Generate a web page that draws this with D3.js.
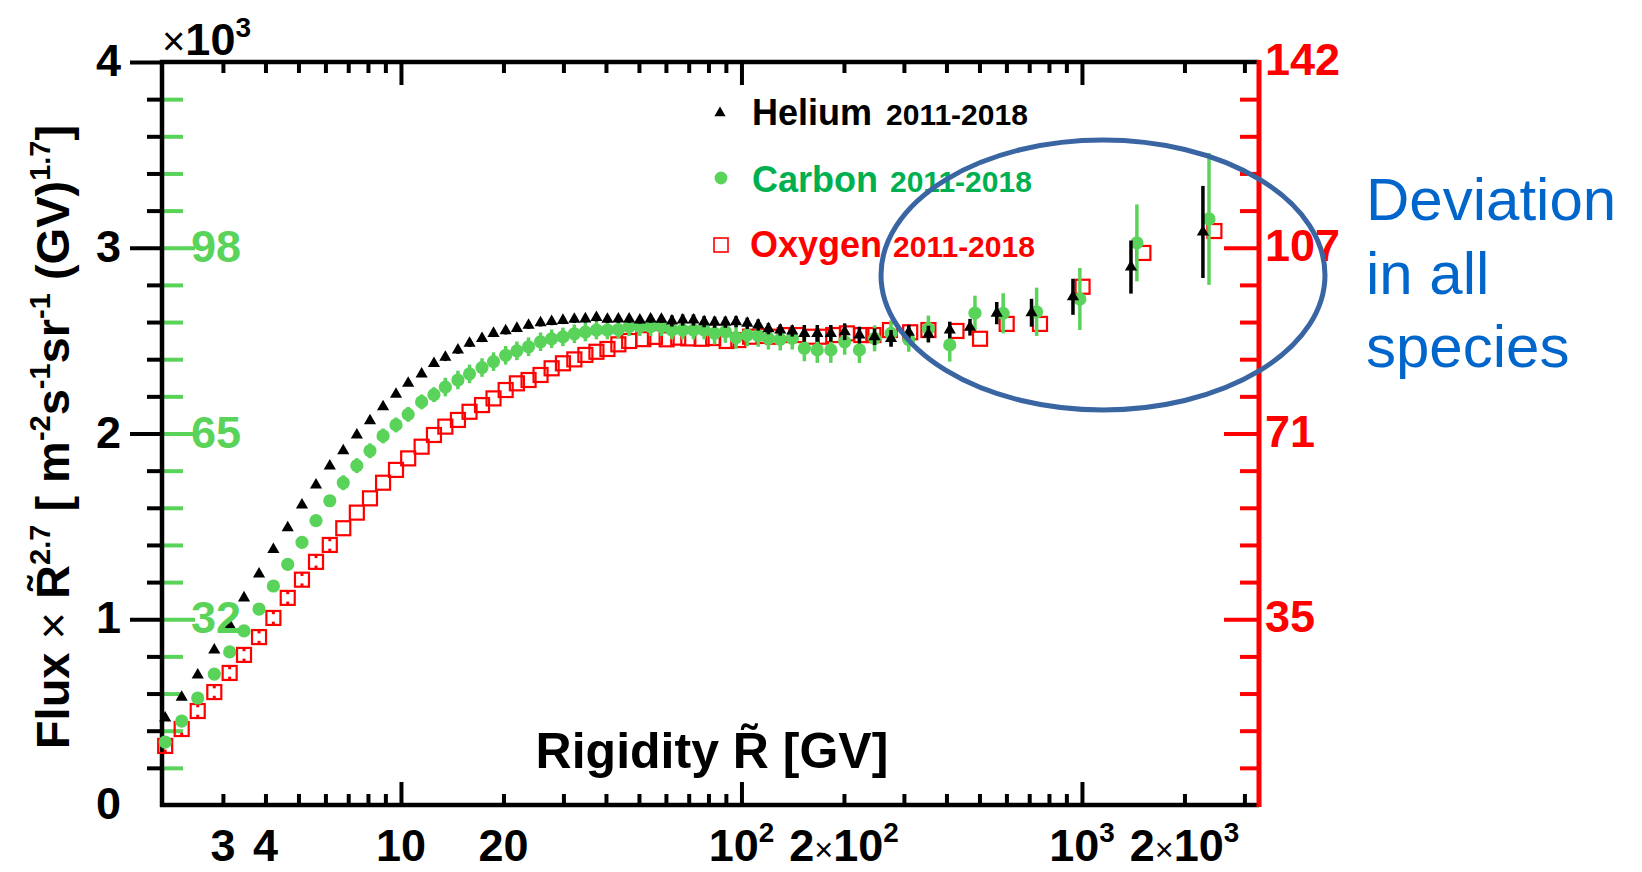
<!DOCTYPE html>
<html>
<head>
<meta charset="utf-8">
<script src="https://cdn.jsdelivr.net/npm/d3@7"></script>
<style>
  html, body { margin: 0; padding: 0; background: #fff; }
  svg { display: block; }
  text { font-family: "Liberation Sans", Arial, Helvetica, sans-serif; }
</style>
</head>
<body>
<svg id="chart" width="1642" height="872"></svg>
<script>
// ---- Data: flux x R^2.7 in units of 10^3 (left scale), per species ----
const heRigidity = [2.03, 2.27, 2.53, 2.83, 3.14, 3.46, 3.83, 4.22, 4.65, 5.12,
  5.63, 6.18, 6.77, 7.42, 8.11, 8.86, 9.67, 10.5, 11.5, 12.5,
  13.5, 14.7, 15.9, 17.3, 18.7, 20.3, 21.9, 23.7, 25.7, 27.7,
  29.9, 32.3, 34.8, 37.5, 40.4, 43.5, 46.8, 50.3, 54.1, 58.2,
  62.5, 67.2, 72.3, 77.7, 83.4, 89.7, 96.4, 104, 112, 120,
  130, 141, 153, 167, 183, 201, 222, 246, 275, 310,
  354, 409, 469, 562, 711, 941, 1393, 2266];
const heFlux = [0.468, 0.58, 0.70, 0.834, 0.969, 1.115, 1.244, 1.375, 1.493, 1.615,
  1.723, 1.825, 1.907, 1.992, 2.069, 2.144, 2.211, 2.270, 2.320, 2.377,
  2.41, 2.449, 2.486, 2.512, 2.539, 2.553, 2.566, 2.583, 2.596, 2.603,
  2.609, 2.615, 2.617, 2.624, 2.615, 2.616, 2.616, 2.611, 2.616, 2.615,
  2.606, 2.611, 2.611, 2.602, 2.599, 2.599, 2.602, 2.593, 2.584, 2.564,
  2.557, 2.552, 2.539, 2.539, 2.539, 2.548, 2.530, 2.521, 2.512, 2.545,
  2.535, 2.557, 2.572, 2.648, 2.650, 2.736, 2.896, 3.085];
const heErr = [0.012, 0.012, 0.012, 0.012, 0.012, 0.012, 0.012, 0.012, 0.012, 0.012,
  0.012, 0.012, 0.012, 0.012, 0.012, 0.012, 0.012, 0.012, 0.012, 0.012,
  0.02, 0.02, 0.02, 0.02, 0.02, 0.02, 0.02, 0.02, 0.02, 0.02,
  0.02, 0.02, 0.02, 0.02, 0.02, 0.02, 0.02, 0.02, 0.02, 0.02,
  0.03, 0.03, 0.03, 0.03, 0.03, 0.03, 0.03, 0.03, 0.03, 0.03,
  0.03, 0.03, 0.045, 0.045, 0.045, 0.045, 0.045, 0.045, 0.045, 0.04,
  0.045, 0.045, 0.045, 0.06, 0.075, 0.097, 0.143, 0.248];

const cRigidity = [2.03, 2.27, 2.53, 2.83, 3.14, 3.46, 3.83, 4.22, 4.65, 5.12,
  5.63, 6.18, 6.77, 7.42, 8.11, 8.86, 9.67, 10.5, 11.5, 12.5,
  13.5, 14.7, 15.9, 17.3, 18.7, 20.3, 21.9, 23.7, 25.7, 27.7,
  29.9, 32.3, 34.8, 37.5, 40.4, 43.5, 46.8, 50.3, 54.1, 58.2,
  62.5, 67.2, 72.3, 77.7, 83.4, 89.7, 96.4, 104, 112, 120,
  130, 141, 153, 167, 183, 201, 222, 246, 275, 310,
  354, 409, 485, 587, 736, 986, 1450, 2361];
const cFlux = [0.339, 0.452, 0.576, 0.705, 0.824, 0.937, 1.055, 1.179, 1.295, 1.414,
  1.531, 1.638, 1.735, 1.827, 1.907, 1.987, 2.046, 2.103, 2.17, 2.209,
  2.25, 2.288, 2.321, 2.355, 2.387, 2.421, 2.445, 2.467, 2.494, 2.51,
  2.52, 2.537, 2.546, 2.557, 2.557, 2.56, 2.575, 2.575, 2.575, 2.575,
  2.557, 2.557, 2.557, 2.557, 2.539, 2.548, 2.516, 2.530, 2.527, 2.512,
  2.507, 2.512, 2.459, 2.450, 2.450, 2.494, 2.450, 2.512, 2.539, 2.505,
  2.565, 2.477, 2.648, 2.647, 2.655, 2.724, 3.026, 3.155];
const cErr = [0.02, 0.02, 0.02, 0.02, 0.02, 0.02, 0.02, 0.02, 0.02, 0.02,
  0.02, 0.02, 0.04, 0.04, 0.04, 0.04, 0.04, 0.04, 0.04, 0.04,
  0.05, 0.05, 0.05, 0.05, 0.05, 0.05, 0.05, 0.05, 0.05, 0.05,
  0.05, 0.05, 0.05, 0.05, 0.05, 0.05, 0.05, 0.05, 0.05, 0.05,
  0.05, 0.05, 0.05, 0.05, 0.06, 0.06, 0.06, 0.06, 0.06, 0.06,
  0.06, 0.06, 0.07, 0.07, 0.07, 0.07, 0.07, 0.07, 0.07, 0.065,
  0.07, 0.09, 0.094, 0.108, 0.13, 0.167, 0.207, 0.355];

const oRigidity = [2.03, 2.27, 2.53, 2.83, 3.14, 3.46, 3.83, 4.22, 4.65, 5.12,
  5.63, 6.18, 6.77, 7.42, 8.11, 8.86, 9.67, 10.5, 11.5, 12.5,
  13.5, 14.7, 15.9, 17.3, 18.7, 20.3, 21.9, 23.7, 25.7, 27.7,
  29.9, 32.3, 34.8, 37.5, 40.4, 43.5, 46.8, 51.5, 55.7, 60.3,
  65.2, 69.8, 76.4, 82.6, 90.5, 97.9, 106, 116, 124, 134,
  145, 161, 174, 186, 204, 225, 244, 273, 313, 354,
  428, 502, 601, 753, 1004, 1515, 2449];
const oFlux = [0.318, 0.409, 0.506, 0.608, 0.711, 0.808, 0.904, 1.007, 1.115, 1.213,
  1.309, 1.40, 1.490, 1.574, 1.651, 1.735, 1.804, 1.866, 1.929, 1.992,
  2.037, 2.073, 2.117, 2.153, 2.189, 2.234, 2.270, 2.288, 2.315, 2.351,
  2.378, 2.399, 2.423, 2.440, 2.455, 2.48, 2.498, 2.508, 2.52, 2.507,
  2.516, 2.512, 2.51, 2.514, 2.498, 2.503, 2.521, 2.525, 2.521, 2.530,
  2.530, 2.521, 2.521, 2.530, 2.539, 2.530, 2.530, 2.557, 2.545, 2.557,
  2.552, 2.51, 2.59, 2.59, 2.79, 2.972, 3.09];
const oErr = [0.02, 0.02, 0.02, 0.02, 0.02, 0.02, 0.02, 0.02, 0.02, 0.02,
  0.02, 0.02, 0.04, 0.04, 0.04, 0.04, 0.04, 0.04, 0.04, 0.04,
  0.04, 0.04, 0.04, 0.04, 0.04, 0.05, 0.05, 0.05, 0.05, 0.05,
  0.05, 0.05, 0.05, 0.05, 0.05, 0.05, 0.05, 0.05, 0.05, 0.05,
  0.05, 0.05, 0.05, 0.05, 0.05, 0.05, 0.05, 0.05, 0.05, 0.055,
  0.055, 0.055, 0.055, 0.055, 0.055, 0.055, 0.055, 0.06, 0.07, 0.095,
  0.09, 0.125, 0.15, 0.15, 0.19, 0.23, 0.36];

// ---- Axis ticks and labels ----
const xMajorTicks = [10, 100, 1000];
const xMinorTicks = [3, 4, 5, 6, 7, 8, 9, 20, 30, 40, 50, 60, 70, 80, 90,
  200, 300, 400, 500, 600, 700, 800, 900, 2000, 3000];
const xLabelValues = [3, 4, 10, 20, 100, 200, 1000, 2000];
const xLabelTexts = ["3", "4", "10", "20", "10^2", "2×10^2", "10^3", "2×10^3"];

const yMajorTicks = [1, 2, 3, 4];
const yLabelValues = [0, 1, 2, 3, 4];
const yLabelTexts = ["0", "1", "2", "3", "4"];
const yMinorTicks = d3.range(1, 20).filter(i => i % 5 !== 0).map(i => i / 5);

const carbonLabelValues = [1, 2, 3];
const carbonLabelTexts = ["32", "65", "98"];
const oxygenLabelValues = [1, 2, 3, 4];
const oxygenLabelTexts = ["35", "71", "107", "142"];

const legendNames = ["Helium", "Carbon", "Oxygen"];
const legendPeriod = "2011-2018";

// ---- Colours ----
const BLACK = "#000000";
const GREEN = "#5ad35a";
const GREEN_TEXT = "#00b050";
const RED = "#ff0000";
const NOTE_BLUE = "#0066cc";
const RING_BLUE = "#3a65a3";

const svg = d3.select("#chart");
const x = d3.scaleLog().domain([1.987, 3311]).range([162, 1259]);
const y = d3.scaleLinear().domain([0, 4]).range([805, 62]);

// ---- Ticks ----
function tickGroup(axis, tx, ty, color, width) {
  const g = svg.append("g").attr("transform", `translate(${tx},${ty})`).call(axis);
  g.select(".domain").remove();
  g.selectAll(".tick line").attr("stroke", color).attr("stroke-width", width);
  g.selectAll(".tick text").remove();
  return g;
}
// bottom and top (ticks pointing into the frame)
tickGroup(d3.axisBottom(x).tickValues(xMajorTicks).tickSize(-23).tickFormat(""), 0, 805, BLACK, 4);
tickGroup(d3.axisBottom(x).tickValues(xMinorTicks).tickSize(-11).tickFormat(""), 0, 805, BLACK, 4);
tickGroup(d3.axisTop(x).tickValues(xMajorTicks).tickSize(-23).tickFormat(""), 0, 62, BLACK, 4);
tickGroup(d3.axisTop(x).tickValues(xMinorTicks).tickSize(-11).tickFormat(""), 0, 62, BLACK, 4);
// left black ticks point outwards
tickGroup(d3.axisLeft(y).tickValues(yMajorTicks).tickSize(32).tickFormat(""), 162, 0, BLACK, 4);
tickGroup(d3.axisLeft(y).tickValues(yMinorTicks).tickSize(15).tickFormat(""), 162, 0, BLACK, 4);
// carbon (green) ticks point inwards from the left edge
tickGroup(d3.axisRight(y).tickValues(yMinorTicks).tickSize(21).tickFormat(""), 162, 0, GREEN, 4);
tickGroup(d3.axisRight(y).tickValues(carbonLabelValues).tickSize(33).tickFormat(""), 162, 0, GREEN, 4);
// oxygen (red) ticks point inwards from the right edge
tickGroup(d3.axisLeft(y).tickValues(yMinorTicks).tickSize(19).tickFormat(""), 1259, 0, RED, 4);
tickGroup(d3.axisLeft(y).tickValues([1, 2, 3]).tickSize(35).tickFormat(""), 1259, 0, RED, 4);

// ---- Frame ----
const frame = svg.append("g");
frame.append("line").attr("x1", 160).attr("x2", 1259).attr("y1", y(4)).attr("y2", y(4))
  .attr("stroke", BLACK).attr("stroke-width", 4.5);
frame.append("line").attr("x1", 160).attr("x2", 1259).attr("y1", y(0)).attr("y2", y(0))
  .attr("stroke", BLACK).attr("stroke-width", 4.5);
frame.append("line").attr("x1", 162).attr("x2", 162).attr("y1", y(4) - 2).attr("y2", y(0) + 2)
  .attr("stroke", BLACK).attr("stroke-width", 4.5);
frame.append("line").attr("x1", 1259).attr("x2", 1259).attr("y1", y(4) - 2).attr("y2", y(0) + 2)
  .attr("stroke", RED).attr("stroke-width", 5);

// ---- Series ----
function series(R, F, E) {
  return R.map((r, i) => ({ r, v: F[i], e: E[i] }));
}
const oxygen = series(oRigidity, oFlux, oErr);
const carbon = series(cRigidity, cFlux, cErr);
const helium = series(heRigidity, heFlux, heErr);

const plot = svg.append("g");

// oxygen: open squares, error bars stop at the marker edge
const SQ = 14;
const gO = plot.append("g");
gO.selectAll("line.up").data(oxygen).join("line")
  .attr("x1", d => x(d.r)).attr("x2", d => x(d.r))
  .attr("y1", d => y(d.v + d.e)).attr("y2", d => Math.min(y(d.v + d.e), y(d.v) - SQ / 2))
  .attr("stroke", RED).attr("stroke-width", 3);
gO.selectAll("line.dn").data(oxygen).join("line")
  .attr("x1", d => x(d.r)).attr("x2", d => x(d.r))
  .attr("y1", d => Math.max(y(d.v - d.e), y(d.v) + SQ / 2)).attr("y2", d => y(d.v - d.e))
  .attr("stroke", RED).attr("stroke-width", 3);
gO.selectAll("rect").data(oxygen).join("rect")
  .attr("x", d => x(d.r) - SQ / 2).attr("y", d => y(d.v) - SQ / 2)
  .attr("width", SQ).attr("height", SQ)
  .attr("fill", "none").attr("stroke", RED).attr("stroke-width", 2.2);

// carbon: filled circles
const gC = plot.append("g");
gC.selectAll("line").data(carbon).join("line")
  .attr("x1", d => x(d.r)).attr("x2", d => x(d.r))
  .attr("y1", d => y(d.v + d.e)).attr("y2", d => y(d.v - d.e))
  .attr("stroke", GREEN).attr("stroke-width", 3.5);
gC.selectAll("circle").data(carbon).join("circle")
  .attr("cx", d => x(d.r)).attr("cy", d => y(d.v)).attr("r", 6.6)
  .attr("fill", GREEN);

// helium: filled triangles
const tri = d3.symbol(d3.symbolTriangle, 64);
const gH = plot.append("g");
gH.selectAll("line").data(helium).join("line")
  .attr("x1", d => x(d.r)).attr("x2", d => x(d.r))
  .attr("y1", d => y(d.v + d.e)).attr("y2", d => y(d.v - d.e))
  .attr("stroke", BLACK).attr("stroke-width", 3.5);
gH.selectAll("path").data(helium).join("path")
  .attr("transform", d => `translate(${x(d.r)},${y(d.v)})`)
  .attr("d", tri).attr("fill", BLACK);

// ---- Tick labels ----
const TICK_FONT = 45;
function powerLabel(textSel, label, size) {
  const [base, exp] = label.split("^");
  const bits = base.split("×");
  if (bits.length === 2) {
    textSel.append("tspan").text(bits[0]);
    textSel.append("tspan").attr("font-weight", "normal").attr("font-size", size * 0.72).text("×");
    textSel.append("tspan").text(bits[1]);
  } else {
    textSel.append("tspan").text(base);
  }
  if (exp) {
    textSel.append("tspan").attr("font-size", size * 0.62).attr("dy", -size * 0.42).text(exp);
  }
}

const xl = svg.append("g").attr("font-size", TICK_FONT).attr("font-weight", "bold")
  .attr("text-anchor", "middle").attr("fill", BLACK);
xLabelValues.forEach((v, i) => {
  const t = xl.append("text").attr("x", x(v)).attr("y", 861);
  powerLabel(t, xLabelTexts[i], TICK_FONT);
});

svg.append("g").attr("font-size", TICK_FONT).attr("font-weight", "bold")
  .attr("text-anchor", "end").attr("fill", BLACK)
  .selectAll("text").data(yLabelValues).join("text")
  .attr("x", 121).attr("y", d => y(d) - 2).attr("dy", "0.36em")
  .text((d, i) => yLabelTexts[i]);

// ×10^3 multiplier above the left axis
const mult = svg.append("text").attr("x", 162).attr("y", 55)
  .attr("font-size", TICK_FONT).attr("font-weight", "bold").attr("fill", BLACK);
mult.append("tspan").attr("font-weight", "normal").attr("font-size", 40).text("×");
mult.append("tspan").text("10");
mult.append("tspan").attr("font-size", 28).attr("dy", -18).text("3");

// ---- Axis titles ----
svg.append("text").attr("x", 712).attr("y", 768).attr("text-anchor", "middle")
  .attr("font-size", 50).attr("font-weight", "bold").attr("fill", BLACK)
  .text("Rigidity R\u0303 [GV]");

const yt = svg.append("text").attr("transform", "translate(69,437) rotate(-90)")
  .attr("text-anchor", "middle").attr("font-size", 47).attr("font-weight", "bold").attr("fill", BLACK);
const SUP = 29, RISE = 19;
yt.append("tspan").text("Flux ");
yt.append("tspan").attr("font-weight", "normal").text("×");
yt.append("tspan").text(" R\u0303");
yt.append("tspan").attr("font-size", SUP).attr("dy", -RISE).text("2.7");
yt.append("tspan").attr("dy", RISE).text(" [ m");
yt.append("tspan").attr("font-size", SUP).attr("dy", -RISE).text("-2");
yt.append("tspan").attr("dy", RISE).text("s");
yt.append("tspan").attr("font-size", SUP).attr("dy", -RISE).text("-1");
yt.append("tspan").attr("dy", RISE).text("sr");
yt.append("tspan").attr("font-size", SUP).attr("dy", -RISE).text("-1");
yt.append("tspan").attr("dy", RISE).text(" (GV)");
yt.append("tspan").attr("font-size", SUP).attr("dy", -RISE).text("1.7");
yt.append("tspan").attr("dy", RISE).text("]");

// ---- Secondary scale labels ----
svg.append("g").attr("font-size", TICK_FONT).attr("font-weight", "bold").attr("fill", GREEN)
  .selectAll("text").data(carbonLabelValues).join("text")
  .attr("x", 191).attr("y", d => y(d) - 2).attr("dy", "0.36em")
  .text((d, i) => carbonLabelTexts[i]);

svg.append("g").attr("font-size", TICK_FONT).attr("font-weight", "bold").attr("fill", RED)
  .selectAll("text").data(oxygenLabelValues).join("text")
  .attr("x", 1265).attr("y", d => y(d) - 3).attr("dy", "0.36em")
  .text((d, i) => oxygenLabelTexts[i]);

// ---- Legend ----
const legend = svg.append("g");
const legendColors = [BLACK, GREEN_TEXT, RED];
const legendRows = [125, 192, 257];
const legendNameX = [752, 752, 750];
const legendYearDx = [14, 12, 11];
legendNames.forEach((name, i) => {
  const t = legend.append("text").attr("x", legendNameX[i]).attr("y", legendRows[i])
    .attr("font-weight", "bold").attr("fill", legendColors[i]);
  t.append("tspan").attr("font-size", 36).text(name);
  t.append("tspan").attr("font-size", 30).attr("dx", legendYearDx[i]).text(legendPeriod);
});
legend.append("path").attr("transform", "translate(720,113)")
  .attr("d", d3.symbol(d3.symbolTriangle, 55)).attr("fill", BLACK);
legend.append("circle").attr("cx", 721).attr("cy", 178).attr("r", 6.4).attr("fill", GREEN);
legend.append("rect").attr("x", 714).attr("y", 238).attr("width", 14).attr("height", 14)
  .attr("fill", "none").attr("stroke", RED).attr("stroke-width", 1.6);

// ---- Annotation ----
svg.append("ellipse").attr("cx", 1103).attr("cy", 275).attr("rx", 222).attr("ry", 135)
  .attr("fill", "none").attr("stroke", RING_BLUE).attr("stroke-width", 5);

const note = svg.append("text").attr("font-size", 60).attr("fill", NOTE_BLUE);
note.append("tspan").attr("x", 1366).attr("y", 220).text("Deviation");
note.append("tspan").attr("x", 1366).attr("y", 294).text("in all");
note.append("tspan").attr("x", 1366).attr("y", 367).text("species");
</script>
</body>
</html>
